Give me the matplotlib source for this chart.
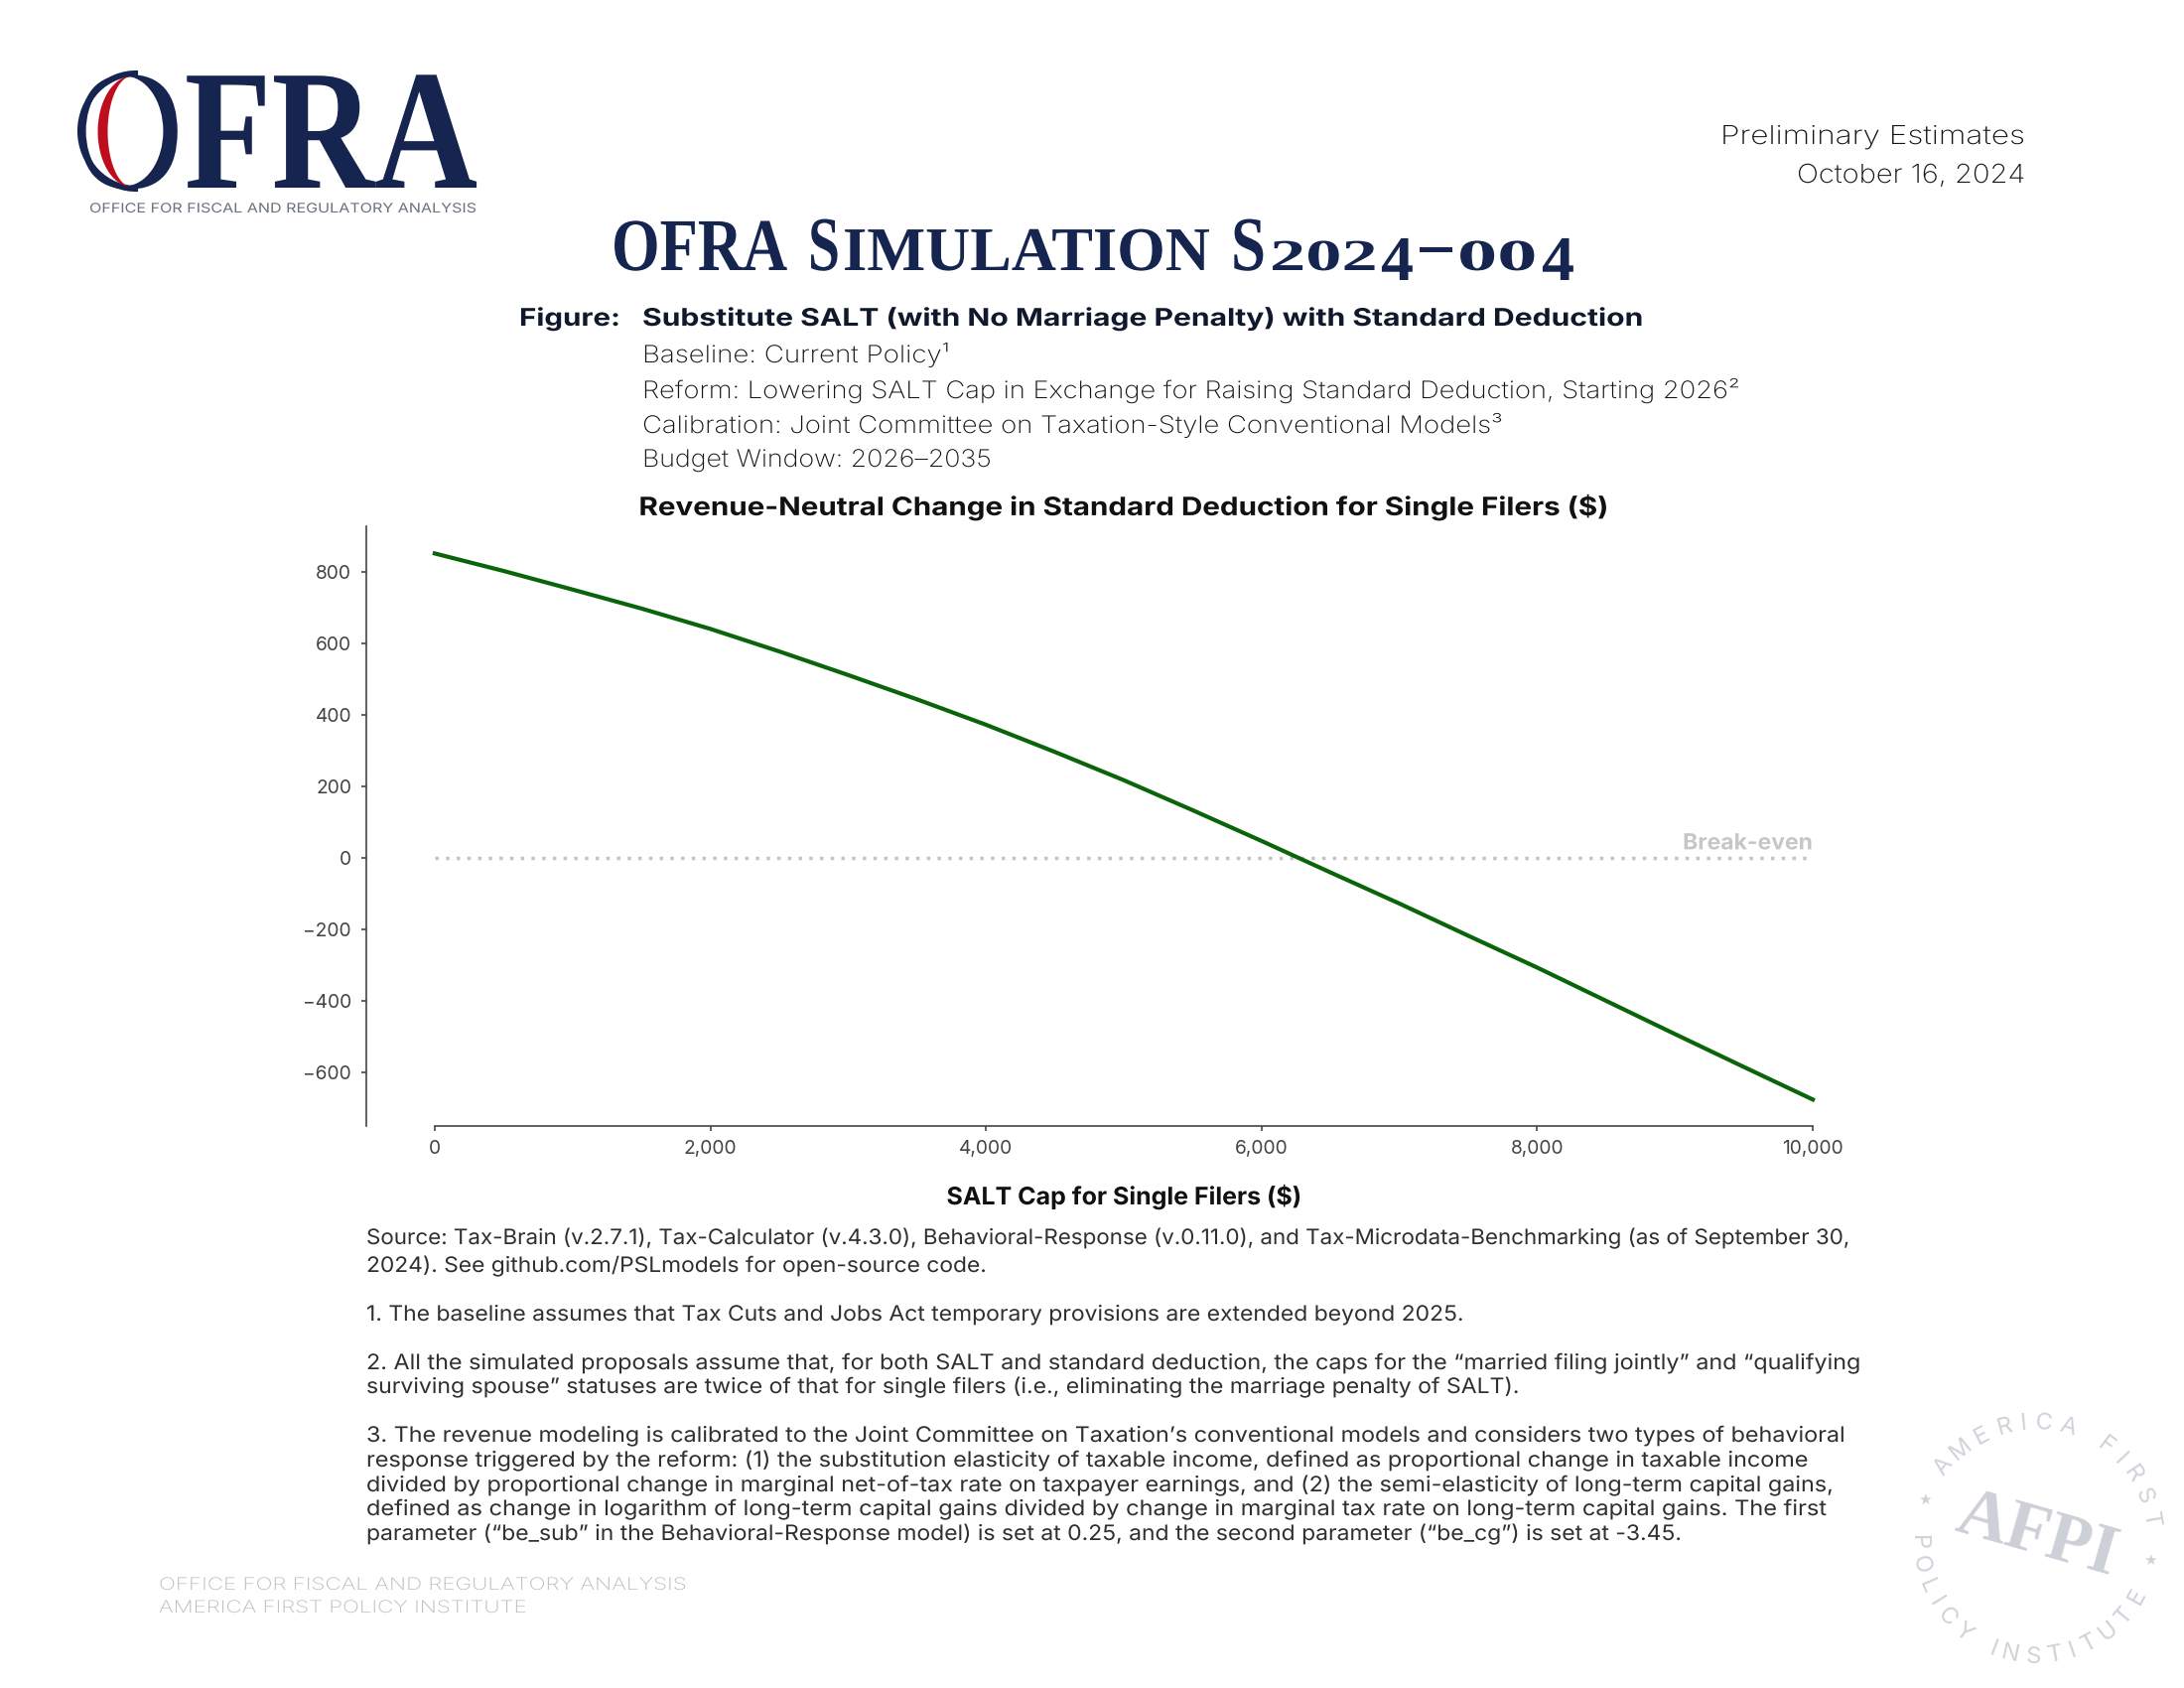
import numpy as np
import matplotlib
matplotlib.use("Agg")
import matplotlib.pyplot as plt
import matplotlib.patheffects as pe
from matplotlib.patches import Arc, Ellipse
from matplotlib.ticker import FuncFormatter
from matplotlib.transforms import Affine2D

# values
salt_cap = [0, 500, 1000, 1500, 2000, 2500, 3000, 3500, 4000, 4500, 5000, 5500, 6000, 6500, 7000, 7500, 8000, 8500, 9000, 9500, 10000]
std_deduction_change = [851, 802, 750, 697, 640, 577, 511, 443, 372, 296, 217, 133, 47, -41, -128, -218, -307, -400, -493, -585, -676]
x_ticks = [0, 2000, 4000, 6000, 8000, 10000]
y_ticks = [-600, -400, -200, 0, 200, 400, 600, 800]

W, H = 2200, 1700
NAVY = "#15254f"
INK = "#10182c"
TEXT = "#2b2b2b"
LIGHT = "#141414"

plt.rcParams["font.family"] = ["Inter", "DejaVu Sans"]

fig = plt.figure(figsize=(11, 8.5), dpi=200, facecolor="white")
renderer = fig.canvas.get_renderer()

# full page axes in pixel coordinates for everything around the chart
page = fig.add_axes([0, 0, 1, 1])
page.set_xlim(0, W)
page.set_ylim(H, 0)
page.axis("off")


class Stretch(pe.AbstractPathEffect):
    """Scale glyphs horizontally around x0, the fonts here are not the original ones."""

    def __init__(self, sx, x0):
        super().__init__()
        self.sx = sx
        self.x0 = x0

    def draw_path(self, renderer, gc, tpath, affine, rgbFace=None):
        squeeze = Affine2D().translate(-self.x0, 0).scale(self.sx, 1).translate(self.x0, 0)
        renderer.draw_path(gc, tpath, affine + squeeze, rgbFace)


def fit_width(t, x0, x1):
    w = t.get_window_extent(renderer).width
    t.set_path_effects([Stretch((x1 - x0) / w, x0)])


def put(x0, x1, y, s, size, color=TEXT, weight="normal", family=None):
    t = page.text(x0, y, s, fontsize=size, color=color, weight=weight, family=family, ha="left", va="baseline")
    fit_width(t, x0, x1)
    return t


# logo, the O gets its thin outer edge and red inner crescent on top of the glyph
put(74, 481, 189, "OFRA", 62, NAVY, "bold", "Liberation Serif")
page.add_patch(Ellipse((125.5, 132), 75, 108, color="white", zorder=5))
page.add_patch(Arc((137, 132), 112, 116, theta1=88, theta2=272, color=NAVY, lw=2.2, zorder=6))
crescent_y = np.linspace(-1, 1, 81)
page.fill_betweenx(132 + 56 * crescent_y, 133 - 35 * np.sqrt(1 - crescent_y ** 2), 133 - 25 * np.sqrt(1 - crescent_y ** 2),
                   color="#c00d1e", lw=0, zorder=6)
put(90, 477, 214, "OFFICE FOR FISCAL AND REGULATORY ANALYSIS", 4.8, "#6a7280", "normal")

# top right
put(1733, 2040, 145, "Preliminary Estimates", 9.4, LIGHT, "light")
put(1810, 2040, 184, "October 16, 2024", 9.4, LIGHT, "light")

# main title, small caps and old style figures are built from pieces
title_serif = "Liberation Serif"
put(616, 793, 272, "OFRA", 27, NAVY, "bold", title_serif)
put(814, 846, 272, "S", 28, NAVY, "bold", title_serif)
put(849, 1219, 272, "IMULATION", 22.5, NAVY, "bold", title_serif)
put(1240, 1275, 272, "S", 28, NAVY, "bold", title_serif)
put(1279, 1388, 272, "202", 16, NAVY, "bold", title_serif)
put(1391, 1424, 282, "4", 23, NAVY, "bold", title_serif)
put(1430, 1463, 268, "–", 26, NAVY, "bold", title_serif)
put(1468, 1549, 272, "00", 16, NAVY, "bold", title_serif)
put(1553, 1586, 282, "4", 23, NAVY, "bold", title_serif)

# figure header
put(523, 625, 328, "Figure:", 8.8, INK, "bold")
put(647, 1653, 328, "Substitute SALT (with No Marriage Penalty) with Standard Deduction", 8.8, INK, "bold")
put(647, 955, 365, "Baseline: Current Policy¹", 8.7, LIGHT, "light")
put(647, 1749, 401, "Reform: Lowering SALT Cap in Exchange for Raising Standard Deduction, Starting 2026²", 8.7, LIGHT, "light")
put(647, 1510, 436, "Calibration: Joint Committee on Taxation-Style Conventional Models³", 8.7, LIGHT, "light")
put(647, 998, 470, "Budget Window: 2026–2035", 8.7, LIGHT, "light")

# the chart
ax = fig.add_axes([368.5 / W, 1 - 1134 / H, 1527 / W, 604 / H])
ax.patch.set_alpha(0)
ax.plot(salt_cap, [0] * len(salt_cap), color="#c4c4c4", lw=1.25, ls=(0, (1, 2.1)))
ax.plot(salt_cap, std_deduction_change, color="#0a640a", lw=1.5)
ax.set_xlim(-500, 10500)
ax.set_ylim(-750, 927)
ax.spines["top"].set_visible(False)
ax.spines["right"].set_visible(False)
ax.spines["bottom"].set_bounds(0, 10000)
for side in ["left", "bottom"]:
    ax.spines[side].set_linewidth(0.6)
    ax.spines[side].set_color("#444444")
ax.set_xticks(x_ticks)
ax.set_yticks(y_ticks)
ax.xaxis.set_major_formatter(FuncFormatter(lambda v, _: f"{v:,.0f}"))
ax.yaxis.set_major_formatter(FuncFormatter(lambda v, _: f"{v:,.0f}".replace("-", "−")))
ax.tick_params(axis="both", length=1.8, width=0.6, color="#444444", labelsize=6.9, labelcolor="#444444", pad=3.4)

tt = ax.set_title("Revenue-Neutral Change in Standard Deduction for Single Filers ($)", fontsize=9.2, weight="bold", color="#111111", pad=4)
tt.set_path_effects([Stretch(977 / tt.get_window_extent(renderer).width, 1132.5)])

xl = ax.set_xlabel("SALT Cap for Single Filers ($)", fontsize=8.8, weight="bold", color="#111111", va="baseline")
ax.xaxis.set_label_coords(0.5, -79 / 604)
xl.set_path_effects([Stretch(357 / xl.get_window_extent(renderer).width, 1132)])

be = ax.text(10000, 0, "Break-even", fontsize=8, weight="bold", color="#c6c6c6", ha="right", va="baseline",
             transform=ax.transData + Affine2D().translate(0, 8.5))
be.set_path_effects([Stretch(131 / be.get_window_extent(renderer).width, 1825)])

# notes under the chart
notes = [
    (1253, 1859, "Source: Tax-Brain (v.2.7.1), Tax-Calculator (v.4.3.0), Behavioral-Response (v.0.11.0), and Tax-Microdata-Benchmarking (as of September 30,"),
    (1281, 994, "2024). See github.com/PSLmodels for open-source code."),
    (1330, 1473, "1. The baseline assumes that Tax Cuts and Jobs Act temporary provisions are extended beyond 2025."),
    (1379, 1872, "2. All the simulated proposals assume that, for both SALT and standard deduction, the caps for the “married filing jointly” and “qualifying"),
    (1403, 1529, "surviving spouse” statuses are twice of that for single filers (i.e., eliminating the marriage penalty of SALT)."),
    (1452, 1857, "3. The revenue modeling is calibrated to the Joint Committee on Taxation’s conventional models and considers two types of behavioral"),
    (1477, 1820, "response triggered by the reform: (1) the substitution elasticity of taxable income, defined as proportional change in taxable income"),
    (1502, 1844, "divided by proportional change in marginal net-of-tax rate on taxpayer earnings, and (2) the semi-elasticity of long-term capital gains,"),
    (1526, 1837, "defined as change in logarithm of long-term capital gains divided by change in marginal tax rate on long-term capital gains. The first"),
    (1551, 1692, "parameter (“be_sub” in the Behavioral-Response model) is set at 0.25, and the second parameter (“be_cg”) is set at -3.45."),
]
for y, x1, line in notes:
    put(369, x1, y, line, 7.7, "#2f2f2f")

# footer
put(160, 689, 1601, "OFFICE FOR FISCAL AND REGULATORY ANALYSIS", 6.2, "#bcbcbc", "light")
put(160, 529, 1624, "AMERICA FIRST POLICY INSTITUTE", 6.2, "#bcbcbc", "light")

# round stamp in the corner
cx, cy, r = 2050, 1551, 118
stamp = "#cfd2d8"
letter_room = {"I": 0.6, " ": 0.75}


def arc_text(s, start, end, turn):
    room = [letter_room.get(ch, 1.0) for ch in s]
    # angle of each letter centre, narrow letters take less of the arc
    done = np.cumsum(room) - np.array(room) / 2 - room[0] / 2
    angles = start + (end - start) * done / done[-1]
    for ch, deg in zip(s, angles):
        a = np.radians(deg)
        page.text(cx + r * np.cos(a), cy - r * np.sin(a), ch, fontsize=8.6, color=stamp, ha="center", va="center",
                  rotation=deg + turn, rotation_mode="anchor")


arc_text("AMERICA FIRST", 141, 10, -90)
arc_text("POLICY INSTITUTE", 181, 331, 90)
for deg in [160, -10]:
    a = np.radians(deg)
    page.text(cx + r * np.cos(a), cy - r * np.sin(a), "★", fontsize=5.5, color=stamp, ha="center", va="center",
              family="DejaVu Sans")
page.text(2051, 1547, "AFPI", fontsize=25.5, weight="bold", color="#cdd0d7", family="Liberation Serif",
          ha="center", va="center", rotation=-16, rotation_mode="anchor")

fig.savefig("out.png", dpi=200, facecolor="white")
